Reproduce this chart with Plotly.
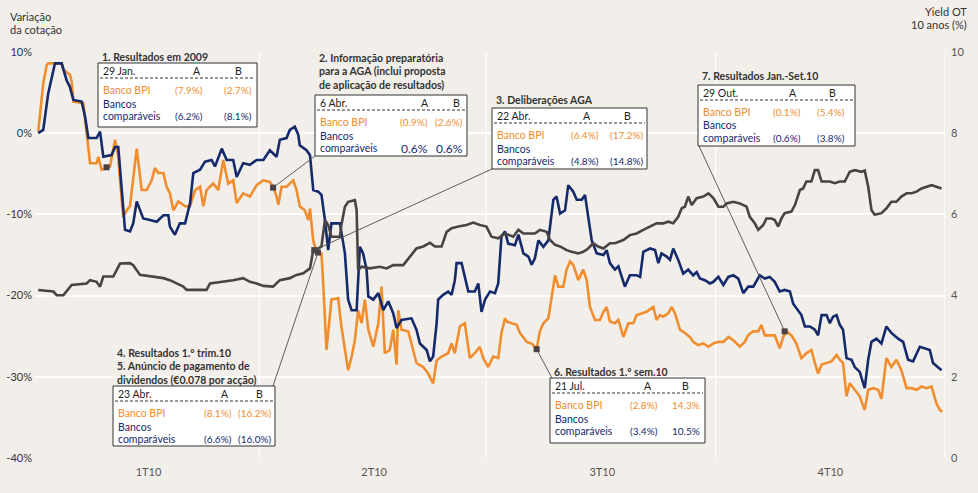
import plotly.graph_objects as go

# ---------------- data (day of year 2010, value) ----------------
bpi_day = [1.3,3.3,4.7,5.3,10.7,11.4,14.0,14.7,15.4,19.4,20.7,22.1,24.7,25.4,26.7,30.1,32.1,33.4,34.1,35.4,36.8,38.1,40.8,42.8,44.8,46.8,48.1,49.5,51.5,52.8,54.1,55.5,57.5,60.2,62.2,64.2,66.2,67.5,68.8,71.5,73.5,75.5,77.5,79.5,80.9,83.5,86.2,88.9,91.6,94.2,95.5,96.9,97.6,98.9,100.9,103.6,104.9,106.2,108.2,109.6,110.3,111.6,112.9,114.9,115.6,116.9,118.9,121.6,122.9,124.3,125.6,127.0,128.3,129.6,131.0,132.3,133.7,135.7,137.7,139.0,140.3,142.3,143.7,145.0,145.7,147.0,149.7,151.0,153.0,155.7,157.7,159.7,161.1,163.1,165.7,167.1,168.4,170.4,172.4,174.4,176.4,178.4,179.8,181.8,183.8,185.8,187.1,188.5,189.2,191.2,193.2,194.5,195.9,197.2,199.2,201.2,202.5,203.9,205.9,207.2,208.6,209.9,211.9,213.2,214.6,215.9,217.9,219.9,221.3,222.6,224.6,226.6,228.0,229.3,230.6,232.6,234.0,236.0,238.0,240.0,241.3,243.3,245.3,248.0,249.3,250.7,252.0,254.0,255.4,256.7,258.7,260.7,262.7,264.0,266.0,268.1,270.1,272.1,274.1,276.1,278.1,280.1,282.7,284.7,286.0,288.0,290.1,291.4,292.7,294.7,296.7,298.7,300.1,301.4,303.4,305.4,307.4,309.4,311.4,312.8,314.1,315.5,317.5,319.5,321.5,322.8,324.1,325.5,326.8,328.8,330.8,332.8,334.2,336.2,338.2,339.5,341.5,343.5,345.5,347.5,349.6,351.6,353.6,355.6,357.6,359.6,361.6,362.9,364.0]
bpi_val = [0.2,6.1,8.4,8.6,8.6,7.8,7.2,6.35,3.9,3.7,0.0,-3.7,-3.7,-2.9,-4.5,-4.1,-0.8,-2.9,-5.8,-10.3,-9.5,-9.0,-1.9,-7.0,-7.0,-5.8,-4.3,-4.9,-4.9,-6.6,-7.4,-9.5,-8.4,-9.0,-9.0,-7.0,-6.6,-9.0,-7.0,-6.2,-7.0,-3.3,-6.2,-5.8,-8.6,-7.4,-7.8,-6.4,-5.8,-6.0,-6.6,-7.8,-8.8,-6.6,-6.6,-5.8,-7.0,-9.0,-9.5,-10.7,-9.3,-13.2,-14.6,-14.8,-18.5,-26.7,-20.5,-20.3,-23.8,-26.7,-29.2,-27.5,-25.5,-21.8,-23.4,-20.5,-24.2,-26.3,-23.4,-18.9,-27.1,-26.7,-24.2,-28.5,-21.8,-24.2,-24.4,-25.9,-28.3,-28.8,-29.6,-30.8,-28.0,-27.5,-27.1,-25.9,-27.1,-23.8,-23.4,-27.7,-27.1,-26.3,-27.7,-28.8,-27.5,-27.7,-24.6,-22.8,-23.2,-23.4,-23.6,-24.6,-25.1,-25.7,-25.9,-26.6,-24.4,-23.4,-22.8,-20.1,-17.5,-18.9,-18.9,-16.8,-15.8,-16.2,-18.1,-16.8,-18.1,-21.4,-23.0,-23.0,-22.0,-21.4,-23.2,-23.4,-23.0,-25.1,-23.4,-23.4,-22.4,-22.2,-22.0,-21.4,-23.0,-22.4,-22.6,-22.2,-21.4,-22.2,-24.2,-24.6,-25.1,-25.7,-26.1,-25.9,-26.3,-25.9,-25.7,-25.7,-25.1,-25.5,-26.3,-25.7,-24.9,-24.4,-24.4,-23.6,-24.9,-24.9,-24.9,-26.5,-25.1,-24.4,-24.9,-25.9,-27.7,-27.1,-26.7,-28.3,-29.6,-28.5,-28.3,-28.1,-27.3,-27.9,-28.3,-32.4,-30.8,-31.6,-32.4,-34.1,-31.6,-31.4,-31.6,-32.7,-27.7,-28.8,-27.9,-29.2,-31.4,-31.4,-31.6,-31.2,-31.4,-31.2,-33.3,-34.1,-34.3]

peers_day = [1.3,3.3,5.3,8.0,10.7,12.7,14.0,15.4,18.7,20.1,21.4,24.7,26.1,27.4,30.7,32.1,33.4,34.8,36.1,38.1,39.4,40.8,43.4,46.1,48.8,51.5,53.5,54.1,56.1,58.1,60.2,62.2,63.5,66.2,68.2,70.8,72.2,74.9,76.9,79.5,80.9,83.5,86.2,88.9,91.6,94.2,96.9,98.2,100.9,102.2,104.2,105.6,106.2,108.9,110.3,111.6,113.6,114.9,116.3,117.6,118.9,122.3,124.3,125.6,127.0,129.0,130.3,131.6,133.0,133.7,135.7,137.7,139.7,141.7,143.7,145.0,147.0,151.0,153.0,154.4,157.1,158.4,159.7,161.1,161.7,163.7,165.7,167.1,168.4,169.1,171.1,172.4,173.8,176.4,177.8,179.1,180.5,182.5,184.5,185.8,187.1,188.5,189.8,192.5,193.9,195.9,197.9,199.2,200.5,201.9,203.9,205.9,207.9,209.2,210.6,212.6,213.9,215.9,217.3,219.3,220.6,221.9,223.3,225.3,228.0,229.3,230.6,232.6,234.0,236.6,238.6,241.3,242.7,244.0,246.7,248.7,250.0,251.3,253.4,254.7,256.0,258.0,260.0,262.0,264.0,265.4,266.7,268.7,270.7,272.1,274.1,276.1,278.1,280.1,282.1,284.1,286.1,288.1,290.7,292.7,294.7,296.7,298.7,300.7,302.8,304.1,306.1,307.4,308.8,310.8,312.8,314.1,315.5,317.5,318.8,320.1,321.5,322.8,324.1,325.5,327.5,328.8,330.8,332.8,334.2,335.5,337.5,339.5,341.5,343.5,346.2,348.2,350.2,352.2,354.9,356.9,358.9,360.2,362.3,363.6]
peers_val = [0.0,0.4,4.9,8.6,8.6,6.5,5.7,4.1,3.9,2.0,-0.6,-0.6,0.2,-2.9,-2.7,-1.7,-1.7,-6.6,-11.9,-12.1,-11.1,-8.4,-10.5,-10.7,-10.9,-10.1,-10.1,-11.5,-12.5,-11.1,-11.1,-8.6,-4.9,-4.5,-3.5,-3.3,-4.1,-1.9,-3.3,-3.3,-5.4,-3.7,-3.9,-3.3,-3.3,-2.1,-2.9,-0.8,-0.6,0.4,0.8,-0.2,-1.5,-2.1,-2.7,-7.0,-7.2,-7.6,-10.7,-14.4,-11.1,-11.1,-14.8,-20.5,-21.8,-21.8,-14.0,-14.8,-16.8,-20.1,-20.5,-19.7,-21.8,-20.7,-22.2,-24.0,-23.0,-22.8,-24.2,-25.9,-26.7,-28.1,-27.5,-23.4,-20.5,-19.9,-19.5,-19.9,-18.1,-16.0,-16.0,-17.7,-19.5,-19.5,-18.5,-22.0,-20.5,-19.5,-19.7,-18.5,-12.7,-12.1,-13.6,-13.8,-12.5,-14.8,-15.2,-16.2,-15.4,-13.2,-14.0,-13.2,-8.2,-7.8,-9.9,-9.5,-6.4,-7.2,-8.2,-8.2,-7.6,-10.3,-13.2,-14.8,-15.0,-14.4,-16.0,-16.8,-16.4,-18.9,-17.5,-17.5,-17.7,-14.6,-14.2,-14.4,-16.0,-14.8,-15.2,-15.6,-14.2,-15.6,-17.3,-16.8,-17.5,-17.1,-17.9,-18.1,-18.5,-18.3,-17.7,-18.7,-17.7,-17.5,-17.9,-19.7,-18.9,-18.9,-17.5,-17.9,-17.7,-18.3,-19.5,-19.3,-19.5,-21.0,-21.8,-22.4,-23.8,-23.8,-24.2,-24.9,-22.4,-22.4,-23.4,-22.6,-22.4,-23.6,-24.2,-27.7,-27.9,-28.8,-29.4,-31.4,-27.9,-25.7,-25.3,-25.9,-23.8,-24.6,-25.3,-25.7,-27.9,-28.1,-26.3,-26.5,-26.7,-28.3,-28.8,-29.2]

yield_day = [1.3,7.4,8.7,11.4,14.7,20.7,22.1,24.7,26.1,27.4,31.4,34.1,38.1,39.4,42.1,47.5,51.5,54.1,56.8,59.5,60.8,68.8,70.2,75.5,79.5,83.5,86.2,88.9,91.6,95.5,98.2,102.2,104.9,107.6,110.3,111.6,113.6,114.9,116.3,117.6,118.9,122.3,122.9,124.3,125.6,128.3,129.0,129.6,131.0,134.3,138.3,141.0,143.7,147.7,150.4,153.0,155.7,158.4,160.4,163.1,165.1,167.1,169.8,173.1,175.8,178.4,181.1,183.1,185.8,188.5,191.8,193.9,195.9,198.5,200.5,202.5,205.2,206.6,208.6,210.6,213.2,215.2,217.9,219.9,221.9,223.9,225.9,228.0,230.6,232.6,236.0,238.6,241.3,244.0,246.7,249.3,252.0,254.0,256.0,258.0,259.4,260.7,262.0,263.4,265.4,268.1,270.1,272.1,274.1,276.1,277.4,280.1,282.7,285.4,286.7,288.7,290.1,292.1,293.4,295.4,296.7,298.1,299.4,300.7,303.4,304.8,306.8,308.1,309.4,311.4,312.8,314.1,315.5,318.8,320.8,322.8,324.8,326.8,328.8,331.5,332.8,334.2,335.5,336.8,339.5,341.5,343.5,345.5,347.5,349.6,351.6,353.6,355.6,357.6,359.6,361.6,363.6]
yield_val = [4.14,4.10,4.01,4.01,4.26,4.30,4.38,4.34,4.22,4.47,4.47,4.79,4.80,4.75,4.51,4.47,4.43,4.38,4.30,4.22,4.14,4.14,4.30,4.34,4.38,4.43,4.34,4.30,4.24,4.22,4.38,4.43,4.51,4.55,4.67,5.12,5.16,5.21,5.86,5.74,5.45,5.45,5.74,6.19,6.31,6.35,6.11,4.63,4.71,4.67,4.71,4.67,4.75,4.75,4.96,5.16,5.21,5.30,5.21,5.21,5.57,5.66,5.70,5.74,5.80,5.74,5.70,5.45,5.41,5.53,5.45,5.62,5.53,5.53,5.53,5.62,5.57,5.37,5.25,5.21,5.12,5.08,5.04,5.08,5.16,5.29,5.21,5.16,5.29,5.29,5.37,5.49,5.53,5.62,5.70,5.78,5.78,5.82,5.78,5.94,6.15,6.19,6.44,6.23,6.40,6.44,6.52,6.40,6.19,6.19,6.27,6.31,6.27,6.19,5.94,5.78,5.62,5.74,5.90,5.90,5.86,5.70,5.90,6.03,6.07,6.23,6.60,6.64,6.81,6.81,7.09,7.09,6.81,6.81,6.77,6.81,6.81,7.05,7.09,7.05,7.08,6.68,6.11,5.99,6.03,6.15,6.31,6.31,6.44,6.52,6.52,6.56,6.64,6.68,6.72,6.68,6.64]

event_day = [28.7, 95.5, 112.0, 113.5, 201.2, 300.7]
event_val = [-4.2, -6.7, -14.4, -14.7, -26.6, -24.4]

quarter_labels = ["1T10", "2T10", "3T10", "4T10"]
quarter_mid = [45.5, 136, 227.5, 319]
quarter_edges = [90, 181, 273, 365]
left_ticks = [-40, -30, -20, -10, 0, 10]
left_text = ["-40%", "-30%", "-20%", "-10%", "0%", "10%"]
right_ticks = [0, 2, 4, 6, 8, 10]

# box contents
boxes = [
    dict(title=["1. Resultados em 2009"], date="29 Jan.", bpi=["(7.9%)", "(2.7%)"], peers=["(6.2%)", "(8.1%)"]),
    dict(title=["2. Informação preparatória", "para a AGA (inclui proposta", "de aplicação de resultados)"],
         date="6 Abr.", bpi=["(0.9%)", "(2.6%)"], peers=["0.6%", "0.6%"]),
    dict(title=["3. Deliberações AGA"], date="22 Abr.", bpi=["(6.4%)", "(17.2%)"], peers=["(4.8%)", "(14.8%)"]),
    dict(title=["7. Resultados Jan.-Set.10"], date="29 Out.", bpi=["(0.1%)", "(5.4%)"], peers=["(0.6%)", "(3.8%)"]),
    dict(title=["4. Resultados 1.º trim.10", "5. Anúncio de pagamento de", "dividendos (€0.078 por acção)"],
         date="23 Abr.", bpi=["(8.1%)", "(16.2%)"], peers=["(6.6%)", "(16.0%)"]),
    dict(title=["6. Resultados 1.º sem.10"], date="21 Jul.", bpi=["(2.8%)", "14.3%"], peers=["(3.4%)", "10.5%"]),
]

# ---------------- layout geometry (pixels) ----------------
W, H = 978, 493
L, R, T, B = 35, 945, 52, 458
# left, top, right, bottom, A-header center, B-header center, A value right, B value right, title y
box_geo = [
    (98, 63, 257, 127, 197, 238, 205, 254, 57),
    (315, 95, 467, 156, 425, 456, 430, 465, 58),
    (492, 108, 647, 169, 587, 627, 601, 645, 100),
    (698, 85, 855, 146, 793, 832, 803, 847, 76.5),
    (113, 386, 275, 446, 225, 259, 234, 273, 353),
    (550, 378, 705, 443, 648, 685, 660, 702, 371.5),
]
# connector: (event index, box index, corner px x, corner px y)
connectors = [(1, 1, 315, 156), (2, 2, 492, 169), (3, 4, 273, 386), (4, 5, 552, 378), (5, 3, 699, 146)]

ORANGE = "#f08d2e"
NAVY = "#152a6b"
GRAY = "#4a4345"
BG = "#f2efea"
FONT = "Lato, Roboto, sans-serif"
TXT = 10.5
VAL = 10


def px(x):
    return (x - L) / (R - L)


def py(y):
    return (B - y) / (B - T)


fig = go.Figure()
fig.add_trace(go.Scatter(x=yield_day, y=yield_val, yaxis="y2", mode="lines",
                         line=dict(color=GRAY, width=2.6), hoverinfo="skip"))
fig.add_trace(go.Scatter(x=bpi_day, y=bpi_val, mode="lines",
                         line=dict(color=ORANGE, width=2.6), hoverinfo="skip"))
fig.add_trace(go.Scatter(x=peers_day, y=peers_val, mode="lines",
                         line=dict(color=NAVY, width=2.6), hoverinfo="skip"))

shapes = []
annotations = []

# quarter separators
for e in quarter_edges:
    shapes.append(dict(type="line", xref="x", yref="paper", x0=e, x1=e, y0=0, y1=1,
                       line=dict(color="white", width=1.2), layer="below"))

# connectors
for ei, bi, cx, cy in connectors:
    shapes.append(dict(type="line", xref="paper", yref="paper",
                       x0=event_day[ei] / 365, y0=(event_val[ei] + 40) / 50,
                       x1=px(cx), y1=py(cy), line=dict(color="#4d4d4d", width=0.9), layer="above"))

fig.add_trace(go.Scatter(x=event_day, y=event_val, mode="markers",
                         marker=dict(symbol="square", size=6, color="#4a4042"), hoverinfo="skip"))


def ann(x, y, text, color="#222", size=TXT, xanchor="left", bold=False):
    annotations.append(dict(x=px(x), y=py(y), xref="paper", yref="paper", text=("<b>%s</b>" % text) if bold else text,
                            showarrow=False, xanchor=xanchor, yanchor="middle",
                            font=dict(family=FONT, size=size, color=color)))


for box, g in zip(boxes, box_geo):
    l, t, r, b, ha, hb, va, vb, ty = g
    shapes.append(dict(type="rect", xref="paper", yref="paper", x0=px(l), x1=px(r), y0=py(b), y1=py(t),
                       fillcolor="white", line=dict(color="#333", width=1), layer="above"))
    shapes.append(dict(type="line", xref="paper", yref="paper", x0=px(l + 2), x1=px(r - 2),
                       y0=py(t + 15), y1=py(t + 15), line=dict(color="#333", width=1, dash="3px,2px"),
                       layer="above"))
    for i, line in enumerate(box["title"]):
        ann(l + 2, ty + i * 13.3, line, color="#333", size=10.5, bold=True)
    ann(l + 3, t + 8, box["date"], color="#222")
    ann(ha, t + 8, "A", color="#222", xanchor="center")
    ann(hb, t + 8, "B", color="#222", xanchor="center")
    ann(l + 3, t + 27, "Banco BPI", color=ORANGE)
    ann(va, t + 27, box["bpi"][0], color=ORANGE, xanchor="right", size=VAL)
    ann(vb, t + 27, box["bpi"][1], color=ORANGE, xanchor="right", size=VAL)
    ann(l + 3, t + 40.5, "Bancos", color=NAVY)
    ann(l + 3, t + 53, "comparáveis", color=NAVY)
    big = 12 if box["peers"][0] == "0.6%" else VAL
    ann(va, t + 53, box["peers"][0], color=NAVY, xanchor="right", size=big)
    ann(vb, t + 53, box["peers"][1], color=NAVY, xanchor="right", size=big)

# axis titles
ann(8, 16, "Variação", color="#333", size=11)
ann(8, 30, "da cotação", color="#333", size=11)
ann(969, 11, "Yield OT", color="#333", size=11, xanchor="right")
ann(969, 25, "10 anos (%)", color="#333", size=11, xanchor="right")

fig.update_layout(
    width=W, height=H,
    margin=dict(l=L, r=W - R, t=T, b=H - B, autoexpand=False),
    paper_bgcolor=BG, plot_bgcolor=BG,
    showlegend=False,
    font=dict(family=FONT, size=11, color="#333"),
    xaxis=dict(range=[0, 365], tickvals=quarter_mid, ticktext=quarter_labels, showgrid=False,
               zeroline=False, showline=False, ticks="", tickfont=dict(size=11, color="#555"),
               ticklabelstandoff=6, fixedrange=True, automargin=False),
    yaxis=dict(range=[-40, 10], tickvals=left_ticks, ticktext=left_text, showgrid=True,
               gridcolor="white", gridwidth=1.5, zeroline=False, showline=False, ticks="",
               tickfont=dict(size=11, color="#333"), ticklabelstandoff=2, fixedrange=True,
               automargin=False),
    yaxis2=dict(range=[0, 10], tickvals=right_ticks, overlaying="y", side="right", showgrid=False,
                zeroline=False, showline=False, ticks="", tickfont=dict(size=11, color="#555"),
                ticklabelstandoff=5, fixedrange=True, automargin=False),
    shapes=shapes,
    annotations=annotations,
)

fig.write_html("out.html")
